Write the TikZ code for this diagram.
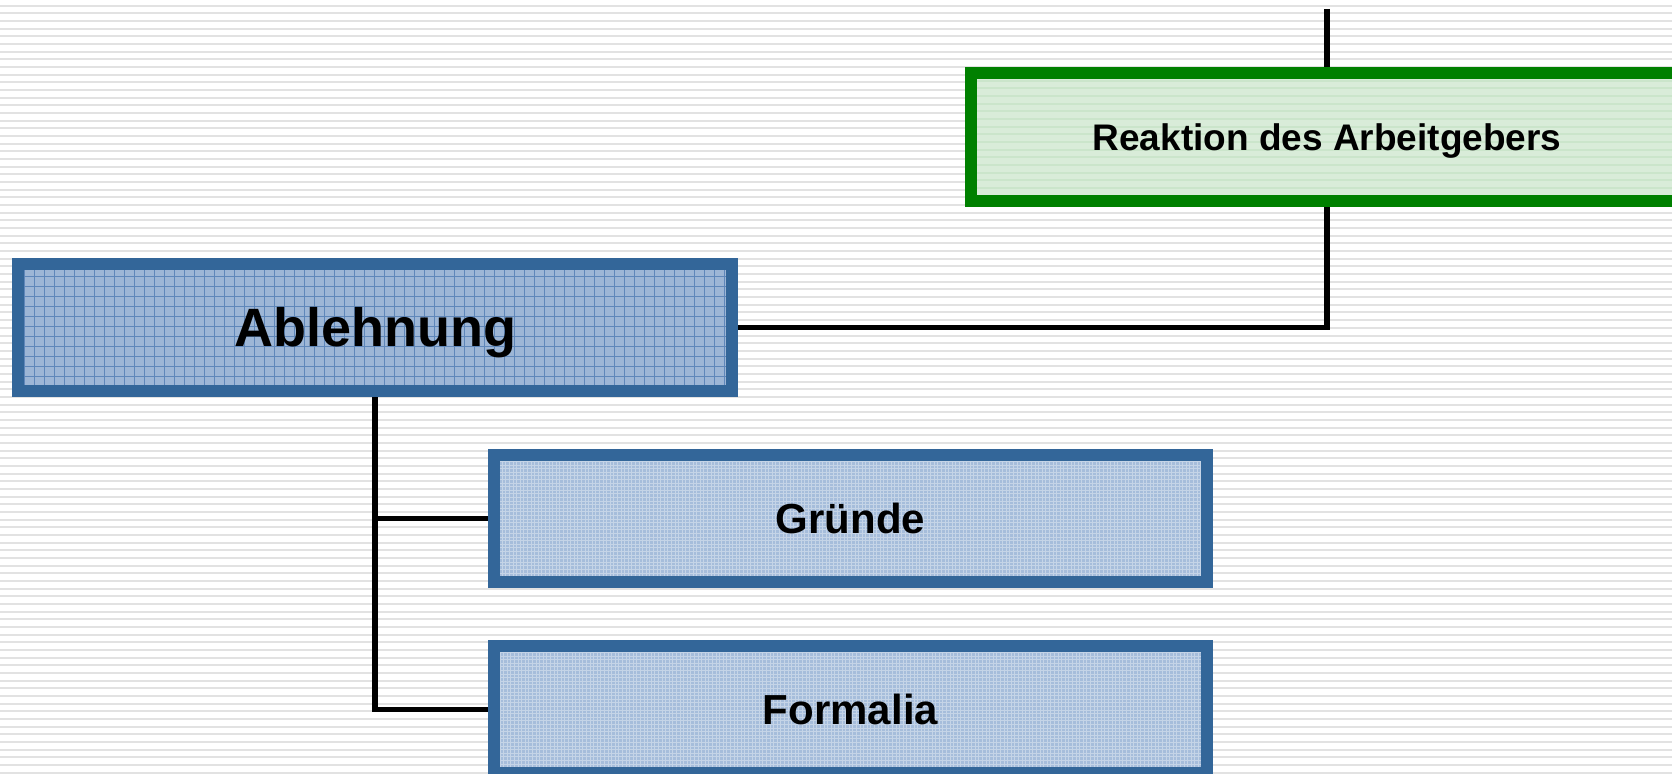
\documentclass[tikz,border=0pt]{standalone}
\usepackage{fontspec}
\setmainfont{Liberation Sans}
\usetikzlibrary{backgrounds}
\definecolor{boxblue}{HTML}{336699}
\definecolor{boxgreen}{HTML}{008000}
\definecolor{fillblue}{HTML}{9DB6D6}
\definecolor{gridblue}{HTML}{5F87BA}
\definecolor{fillpale}{HTML}{A6BDDB}
\definecolor{fillgreen}{HTML}{D9ECD9}
\definecolor{stripegray}{HTML}{E2E2E2}
\begin{document}
\begin{tikzpicture}[x=0.5pt,y=-0.5pt,
    stripe/.style={line width=1pt,stripegray},
    conn/.style={line width=2.8pt,black},
    boxbase/.style={line width=6pt,inner sep=0pt,outer sep=0pt,
      minimum width=356.5pt,minimum height=63.5pt,text depth=0pt},
    bluebox/.style={boxbase,draw=boxblue,fill=fillpale,
      font=\bfseries\fontsize{21}{21}\selectfont,text height=15pt,
      path picture={\draw[white,opacity=.35,line width=.5pt]
        (path picture bounding box.south west) grid[step=1.8pt]
        (path picture bounding box.north east);}},
    mainbox/.style={boxbase,draw=boxblue,fill=fillblue,minimum width=357pt,
      font=\bfseries\fontsize{27}{27}\selectfont,text height=19.3pt,
      path picture={\draw[gridblue,line width=.4pt]
        (path picture bounding box.south west) grid[step=5pt]
        (path picture bounding box.north east);}},
    greenbox/.style={boxbase,draw=boxgreen,fill=fillgreen,minimum height=64pt,
      font=\bfseries\fontsize{18.5}{18.5}\selectfont,text height=13.2pt,
      path picture={\foreach \k in {0,...,20}
        \draw[stripegray!90!green,line width=1pt]
          ([yshift=-\k*3.83pt]path picture bounding box.north west) --
          ([yshift=-\k*3.83pt]path picture bounding box.north east);}}]
\useasboundingbox (0,0) rectangle (1672,774);

\node[greenbox] (reaktion) at (1327,137) {Reaktion des Arbeitgebers};
\node[mainbox] (ablehnung) at (375,327.5) {Ablehnung};
\node[bluebox] (gruende) at (850.5,518.5) {Gründe};
\node[bluebox] (formalia) at (850.5,709.5) {Formalia};

\coordinate (top) at (1327,9);

\begin{scope}[on background layer]
  \fill[white] (0,0) rectangle (1672,774);
  \foreach \i in {0,...,100}
    \draw[stripe] (0,{5.7+\i*7.67}) -- (1672,{5.7+\i*7.67});
  \draw[conn] (top) -- (reaktion.north);
  \draw[conn] (reaktion.south) |- (ablehnung.east);
  \draw[conn] (ablehnung.south) |- (gruende.west);
  \draw[conn] (ablehnung.south) |- (formalia.west);
\end{scope}

\end{tikzpicture}
\end{document}
